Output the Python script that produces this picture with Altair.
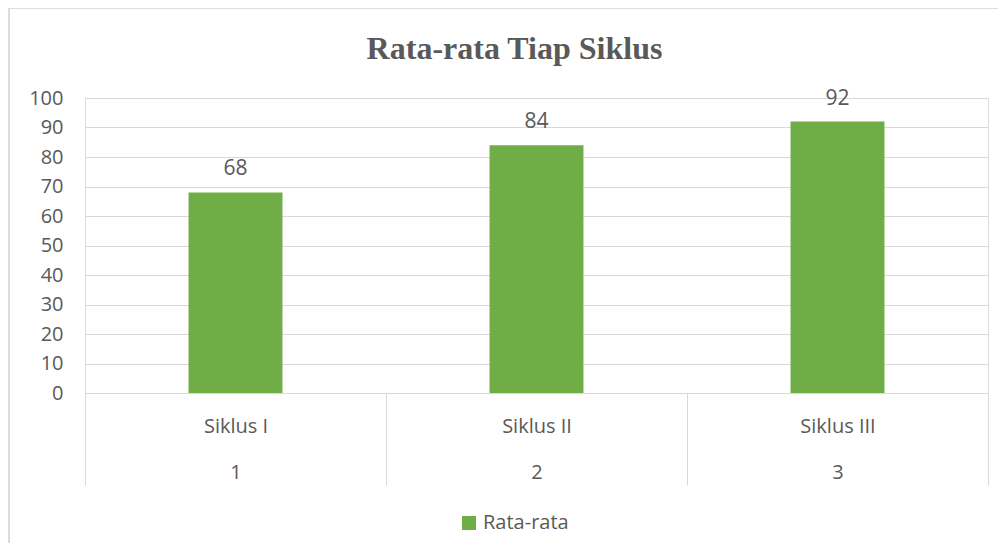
import altair as alt
import pandas as pd

categories = ["Siklus I", "Siklus II", "Siklus III"]
numbers = ["1", "2", "3"]
values = [68, 84, 92]
series = "Rata-rata"
y_ticks = [0, 10, 20, 30, 40, 50, 60, 70, 80, 90, 100]

df = pd.DataFrame({
    "cat": [f"{c}|{n}" for c, n in zip(categories, numbers)],
    "value": values,
    "series": [series] * len(values),
})

FONT = "Open Sans"
TXT = "#595959"
GRID = "#D9D9D9"
GREEN = "#70AD47"

W, H = 903, 295

xenc = alt.X(
    "cat:N",
    sort=None,
    title=None,
    scale=alt.Scale(paddingInner=0, paddingOuter=0),
    axis=alt.Axis(
        labelExpr="isValid(datum.value) ? split(datum.value, '|') : ''",
        labelAngle=0,
        labelFont=FONT,
        labelFontSize=20,
        labelColor=TXT,
        labelLineHeight=46,
        labelBaseline="alphabetic",
        labelPadding=-53,
        tickBand="extent",
        tickSize=92,
        tickColor=GRID,
        tickWidth=1,
        domainColor=GRID,
        domainWidth=1,
        grid=False,
        labelOverlap=False,
        labelBound=False,
    ),
)

yenc = alt.Y(
    "value:Q",
    title=None,
    scale=alt.Scale(domain=[0, 100]),
    axis=alt.Axis(
        values=y_ticks,
        labelFont=FONT,
        labelFontSize=20,
        labelColor=TXT,
        labelPadding=22,
        labelOverlap=False,
        domain=False,
        ticks=False,
        gridColor=GRID,
        gridWidth=1,
    ),
)

bars = alt.Chart(df).mark_bar(width={"band": 0.312}).encode(
    x=xenc,
    y=yenc,
    color=alt.Color(
        "series:N",
        scale=alt.Scale(range=[GREEN]),
        legend=alt.Legend(
            title=None,
            orient="none",
            legendX=374,
            legendY=415,
            symbolType="square",
            symbolSize=196,
            symbolStrokeWidth=0,
            labelFont=FONT,
            labelFontSize=20,
            labelColor=TXT,
            labelOffset=4,
        ),
    ),
)

labels = alt.Chart(df).mark_text(
    baseline="alphabetic", dy=-17, font=FONT, fontSize=21, color=TXT
).encode(
    x=xenc,
    y=yenc,
    text="value:Q",
)

frame = alt.Chart(df).mark_rect(fill=None, stroke=GRID, strokeWidth=1.2).encode(
    x=alt.value(-76), x2=alt.value(1000), y=alt.value(-90), y2=alt.value(560)
)

chart = alt.layer(frame, bars, labels).properties(
    width=W,
    height=H,
    title=alt.TitleParams(
        "Rata-rata Tiap Siklus",
        font="Liberation Serif",
        fontSize=32,
        fontWeight="bold",
        color=TXT,
        anchor="middle",
        baseline="alphabetic",
        dx=-22,
        offset=-84,
    ),
    autosize=alt.AutoSizeParams(type="none"),
    padding={"left": 77, "top": 90, "right": 10, "bottom": 150},
).configure_view(stroke=None).configure(background="white")

chart.save("out.html", embed_options={"renderer": "svg", "actions": False})
